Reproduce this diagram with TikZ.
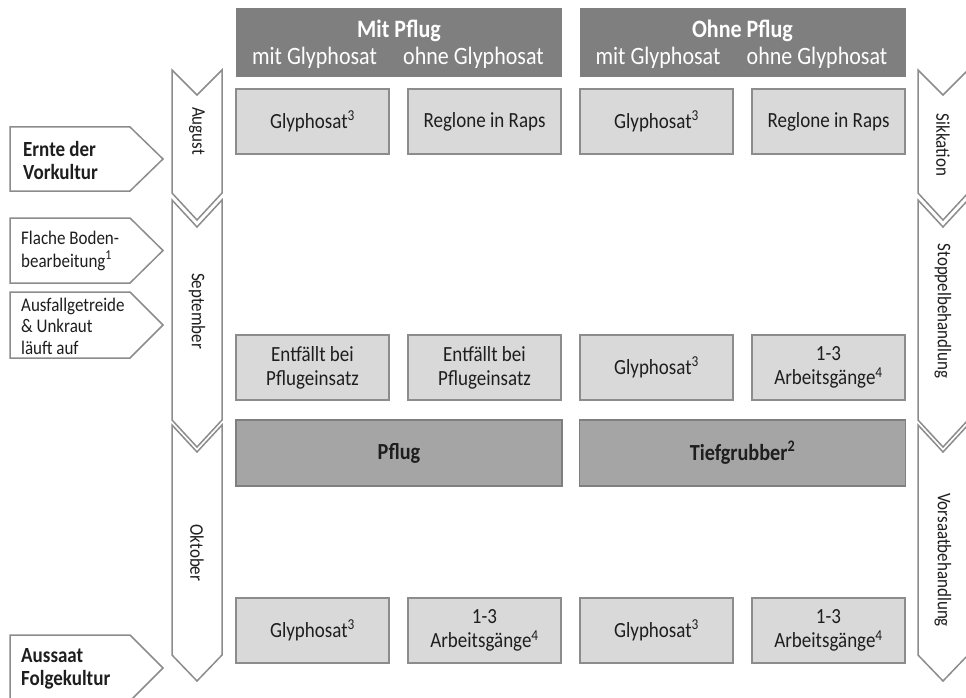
\documentclass[tikz,border=0pt]{standalone}
\usepackage{fontspec}
\setmainfont[FakeStretch=0.88]{Carlito}
\definecolor{headfill}{HTML}{7F7F7F}
\definecolor{cellfill}{HTML}{D9D9D9}
\definecolor{cellline}{HTML}{8C8C8C}
\definecolor{barfill}{HTML}{A5A5A5}
\definecolor{barline}{HTML}{7F7F7F}
\definecolor{chevline}{HTML}{8C8C8C}
\definecolor{ink}{HTML}{1E1E1E}
\newcommand{\fsz}[2]{\fontsize{#1}{#2}\selectfont}
\tikzset{
  cell/.style={draw=cellline, fill=cellfill, line width=1.3pt, minimum width=153pt,
    minimum height=65pt, inner sep=0pt, align=center, text=ink, font=\fsz{21.6}{24}},
  bar/.style={draw=barline, fill=barfill, line width=1.3pt, minimum width=326pt,
    minimum height=66pt, inner sep=0pt, text=ink, font=\fsz{23}{26}\bfseries},
  headbox/.style={fill=headfill, minimum width=326pt, minimum height=69pt, inner sep=0pt},
  headtitle/.style={text=white, font=\fsz{25}{28}\bfseries, anchor=base},
  headsub/.style={text=white, font=\fsz{25}{28}, anchor=base},
  chev/.style={draw=chevline, fill=white, line width=1.5pt, line join=miter},
  mon/.style={rotate=-90, text=ink, font=\fsz{19.3}{22}},
  steptext/.style={anchor=west, align=left, text=ink, inner sep=0pt},
}
\begin{document}
\begin{tikzpicture}[x=1pt, y=-1pt]
\clip (0,0) rectangle (966,698);

% column headers
\node[headbox] (hmit) at (399,42.5) {};
\node[headbox] (hohne) at (742.5,42.5) {};
\node[headtitle] (tmit) at (399,38) {Mit Pflug};
\node[headtitle] (tohne) at (742.5,38) {Ohne Pflug};
\node[headsub] (s1) at (314.5,65) {mit Glyphosat};
\node[headsub] (s2) at (473.5,65) {ohne Glyphosat};
\node[headsub] (s3) at (658,65) {mit Glyphosat};
\node[headsub] (s4) at (817,65) {ohne Glyphosat};

% August: Sikkation
\node[cell] (a1) at (312.5,121.5) {Glyphosat\textsuperscript{3}};
\node[cell] (a2) at (484.5,121.5) {Reglone in Raps};
\node[cell] (a3) at (656.5,121.5) {Glyphosat\textsuperscript{3}};
\node[cell] (a4) at (828.5,121.5) {Reglone in Raps};

% September: Stoppelbehandlung
\node[cell] (b1) at (312.5,367.5) {Entfällt bei\\Pflugeinsatz};
\node[cell] (b2) at (484.5,367.5) {Entfällt bei\\Pflugeinsatz};
\node[cell] (b3) at (656.5,367.5) {Glyphosat\textsuperscript{3}};
\node[cell] (b4) at (828.5,367.5) {1-3\\Arbeitsgänge\textsuperscript{4}};

% primary tillage
\node[bar] (p1) at (399,453) {Pflug};
\node[bar] (p2) at (742.5,453) {Tiefgrubber\textsuperscript{2}};

% Oktober: Vorsaatbehandlung
\node[cell] (c1) at (312.5,630.5) {Glyphosat\textsuperscript{3}};
\node[cell] (c2) at (484.5,630.5) {1-3\\Arbeitsgänge\textsuperscript{4}};
\node[cell] (c3) at (656.5,630.5) {Glyphosat\textsuperscript{3}};
\node[cell] (c4) at (828.5,630.5) {1-3\\Arbeitsgänge\textsuperscript{4}};

% month chevrons (left)
\draw[chev] (172,70) -- (197,95) -- (222,70) -- (222,193) -- (197,220) -- (172,193) -- cycle;
\draw[chev] (172,200) -- (197,227) -- (222,200) -- (222,420) -- (197,447) -- (172,420) -- cycle;
\draw[chev] (172,425) -- (197,452) -- (222,425) -- (222,655) -- (197,681) -- (172,655) -- cycle;
\node[mon] (maug) at (197,131) {August};
\node[mon] (msep) at (197,311) {September};
\node[mon] (mokt) at (197,553) {Oktober};

% phase chevrons (right)
\draw[chev] (918,70) -- (943,95) -- (968,70) -- (968,193) -- (943,220) -- (918,193) -- cycle;
\draw[chev] (918,200) -- (943,227) -- (968,200) -- (968,420) -- (943,447) -- (918,420) -- cycle;
\draw[chev] (918,425) -- (943,452) -- (968,425) -- (968,655) -- (943,681) -- (918,655) -- cycle;
\node[mon] (psik) at (943,145) {Sikkation};
\node[mon] (psto) at (943,311) {Stoppelbehandlung};
\node[mon] (pvor) at (943,560) {Vorsaatbehandlung};

% events (left pentagon arrows)
\draw[chev] (10,127) -- (130,127) -- (163,159) -- (130,191) -- (10,191) -- cycle;
\draw[chev] (10,218) -- (130,218) -- (163,250.5) -- (130,283) -- (10,283) -- cycle;
\draw[chev] (10,292) -- (130,292) -- (163,325) -- (130,358) -- (10,358) -- cycle;
\draw[chev] (10,635) -- (130,635) -- (163,668) -- (130,701) -- (10,701) -- cycle;
\node[steptext, font=\fsz{21.6}{23}\bfseries] (ernte) at (23,161) {Ernte der\\Vorkultur};
\node[steptext, font=\fsz{19.3}{22.5}] (flach) at (21,251) {Flache Boden-\\bearbeitung\textsuperscript{1}};
\node[steptext, font=\fsz{19.3}{21.5}] (ausf) at (21,326) {Ausfallgetreide\\\& Unkraut\\läuft auf};
\node[steptext, font=\fsz{21.6}{23}\bfseries] (aussaat) at (21,669) {Aussaat\\Folgekultur};
\end{tikzpicture}
\end{document}
